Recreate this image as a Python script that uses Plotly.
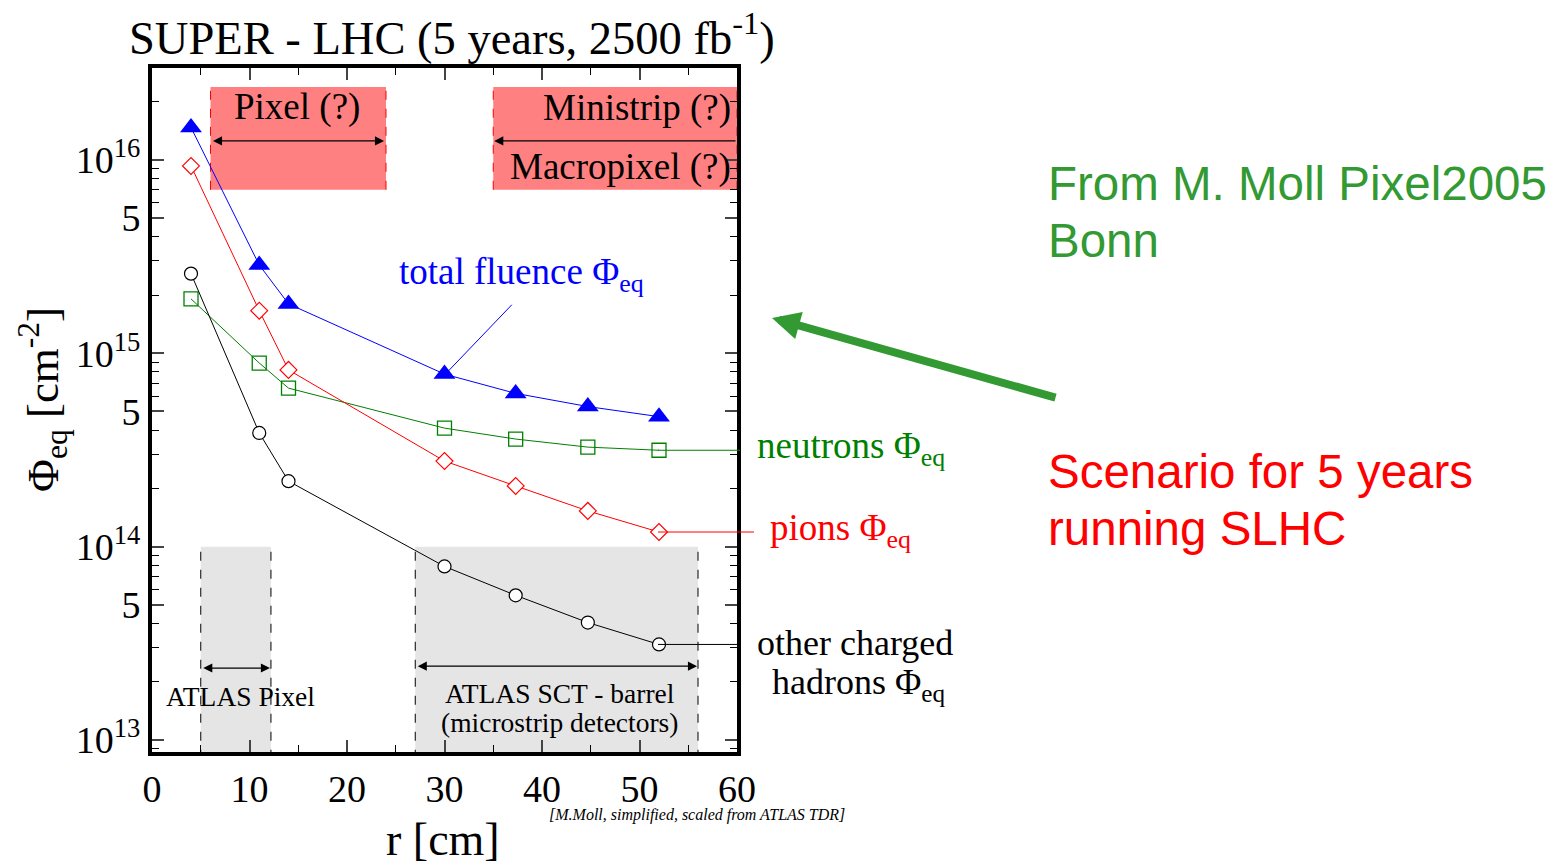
import plotly.graph_objects as go
import math

# ---- data ----
r = [4, 11, 14, 30, 37.3, 44.7, 52]
total_fluence = [1.47e16, 2.86e15, 1.80e15, 7.8e14, 6.2e14, 5.3e14, 4.7e14]
pions = [9.3e15, 1.66e15, 8.2e14, 2.77e14, 2.06e14, 1.53e14, 1.19e14]
neutrons = [1.91e15, 8.9e14, 6.6e14, 4.1e14, 3.6e14, 3.27e14, 3.15e14]
other_hadrons = [2.58e15, 3.87e14, 2.18e14, 7.9e13, 5.6e13, 4.05e13, 3.12e13]

y_tickvals = [1e13, 5e13, 1e14, 5e14, 1e15, 5e15, 1e16]
y_ticktext = ["10<sup>13</sup>", "5", "10<sup>14</sup>", "5", "10<sup>15</sup>", "5", "10<sup>16</sup>"]
x_tickvals = [0, 10, 20, 30, 40, 50, 60]

SERIF = "Liberation Serif, Times New Roman, serif"
SANS = "Liberation Sans, Arial, sans-serif"

fig = go.Figure()

fig.add_trace(go.Scatter(x=r, y=neutrons, mode="lines+markers",
                         line=dict(color="#008000", width=1),
                         marker=dict(symbol="square-open", size=14, color="#008000", line=dict(width=1.3))))
fig.add_trace(go.Scatter(x=r, y=pions, mode="lines+markers",
                         line=dict(color="#ff0000", width=1),
                         marker=dict(symbol="diamond", size=13, color="white", line=dict(width=1.2, color="#ff0000"))))
fig.add_trace(go.Scatter(x=r, y=other_hadrons, mode="lines+markers",
                         line=dict(color="black", width=1),
                         marker=dict(symbol="circle", size=13, color="white", line=dict(width=1.2, color="black"))))
fig.add_trace(go.Scatter(x=r, y=total_fluence, mode="lines+markers",
                         line=dict(color="#0000ff", width=1),
                         marker=dict(symbol="triangle-up", size=19, color="#0000ff")))

shapes = []
# pink regions
PINK = "#ff8080"
for x0, x1 in [(6, 24), (35, 60)]:
    shapes.append(dict(type="rect", xref="x", yref="y", x0=x0, x1=x1, y0=7.0e15, y1=2.38e16,
                       fillcolor=PINK, line=dict(width=0), layer="below"))
    for xv in (x0, x1):
        shapes.append(dict(type="line", xref="x", yref="y", x0=xv, x1=xv, y0=7.0e15, y1=2.38e16,
                           line=dict(color="#ff0000", width=1, dash="dash"), layer="below"))
# grey regions
GREY = "#e5e5e5"
for x0, x1 in [(5, 12.2), (27, 56)]:
    shapes.append(dict(type="rect", xref="x", yref="y", x0=x0, x1=x1, y0=8e12, y1=1e14,
                       fillcolor=GREY, line=dict(width=0), layer="below"))
    for xv in (x0, x1):
        shapes.append(dict(type="line", xref="x", yref="y", x0=xv, x1=xv, y0=8e12, y1=1e14,
                           line=dict(color="black", width=1, dash="dash"), layer="below"))

# connectors to labels outside plot
def px2paper(px):
    return (px - 152) / 585.0

shapes.append(dict(type="line", xref="paper", yref="y", x0=px2paper(658), x1=px2paper(740),
                   y0=neutrons[-1], y1=neutrons[-1], line=dict(color="#008000", width=1)))
shapes.append(dict(type="line", xref="paper", yref="y", x0=px2paper(658), x1=px2paper(754),
                   y0=pions[-1], y1=pions[-1], line=dict(color="#ff0000", width=1)))
shapes.append(dict(type="line", xref="paper", yref="y", x0=px2paper(658), x1=px2paper(740),
                   y0=other_hadrons[-1], y1=other_hadrons[-1], line=dict(color="black", width=1)))
# blue connector to label
shapes.append(dict(type="line", xref="x", yref="y", x0=36.9, x1=30.3, y0=1.78e15, y1=8.0e14,
                   line=dict(color="#0000ff", width=1)))

annotations = []

def ann(text, x, y, xref="x", yref="y", size=32, color="black", xanchor="center", yanchor="middle",
        family=SERIF, textangle=0):
    annotations.append(dict(text=text, x=x, y=y, xref=xref, yref=yref, showarrow=False,
                            font=dict(size=size, color=color, family=family),
                            xanchor=xanchor, yanchor=yanchor, textangle=textangle))

LBL = 37
# region labels
ann("Pixel (?)", 14.9, 16.274, size=LBL)
ann("Ministrip (?)", 59.6, 16.269, size=LBL, xanchor="right")
ann("Macropixel (?)", 59.6, 15.964, size=LBL, xanchor="right")
ann("ATLAS Pixel", 9.1, 13.227, size=27.5)
ann("ATLAS SCT - barrel", 41.8, 13.238, size=27.5)
ann("(microstrip detectors)", 41.8, 13.093, size=27.5)

# double arrows
def arrow(x_head, x_tail, ylog, both=True):
    annotations.append(dict(x=x_head, y=ylog, ax=x_tail, ay=ylog, xref="x", yref="y",
                            axref="x", ayref="y", text="", showarrow=True,
                            arrowhead=2, arrowsize=1.4, arrowwidth=1.3, arrowcolor="black",
                            arrowside="end+start" if both else "end", standoff=0, startstandoff=0))

arrow(23.8, 6.1, 16.098)
arrow(35.1, 60, 16.098, both=False)
arrow(12.1, 5.1, 13.372)
arrow(55.9, 27.1, 13.382)

# series labels
ann("total fluence Φ<sub>eq</sub>", 25.1, 15.406, size=LBL, color="#0000ff", xanchor="left")
ann("neutrons Φ<sub>eq</sub>", px2paper(755), 14.505, xref="paper", size=LBL, color="#008000", xanchor="left")
ann("pions Φ<sub>eq</sub>", px2paper(768), 14.081, xref="paper", size=LBL, color="#ff0000", xanchor="left")
ann("other charged", px2paper(755), 13.50, xref="paper", size=36, xanchor="left")
ann("hadrons Φ<sub>eq</sub>", px2paper(770), 13.285, xref="paper", size=36, xanchor="left")

def py2paper(py):
    return (752 - py) / 684.0

# title and axis titles
ann("SUPER - LHC (5 years, 2500 fb<sup>-1</sup>)", px2paper(452), py2paper(35), xref="paper", yref="paper", size=46.5)
ann("r [cm]", px2paper(443), py2paper(839), xref="paper", yref="paper", size=46)
ann("Φ<sub>eq</sub> [cm<sup>-2</sup>]", px2paper(42), py2paper(400), xref="paper", yref="paper", size=45, textangle=-90)
ann("<i>[M.Moll, simplified, scaled from ATLAS TDR]</i>", px2paper(697), py2paper(815), xref="paper", yref="paper", size=16)

# right side texts
GREEN2 = "#339933"
RS = 47.5
ann("From M. Moll Pixel2005", px2paper(1046), py2paper(183), xref="paper", yref="paper", size=RS,
    color=GREEN2, xanchor="left", family=SANS)
ann("Bonn", px2paper(1046), py2paper(241), xref="paper", yref="paper", size=RS,
    color=GREEN2, xanchor="left", family=SANS)
ann("Scenario for 5 years", px2paper(1046), py2paper(471), xref="paper", yref="paper", size=RS,
    color="#ff0000", xanchor="left", family=SANS)
ann("running SLHC", px2paper(1046), py2paper(528), xref="paper", yref="paper", size=RS,
    color="#ff0000", xanchor="left", family=SANS)

# green big arrow
annotations.append(dict(x=px2paper(772), y=py2paper(318), xref="paper", yref="paper",
                        ax=1057 - 772, ay=398 - 318, axref="pixel", ayref="pixel",
                        text="", showarrow=True, arrowhead=2, arrowsize=0.7, arrowwidth=8,
                        arrowcolor=GREEN2, standoff=0))

fig.update_layout(
    width=1555, height=864, autosize=False,
    margin=dict(l=152, r=1555 - 737, t=68, b=864 - 752, pad=0),
    plot_bgcolor="white", paper_bgcolor="white",
    showlegend=False,
    shapes=shapes, annotations=annotations,
    font=dict(family=SERIF, color="black"),
)
fig.update_xaxes(range=[0, 60], tickvals=x_tickvals, ticks="inside", ticklen=12, tickwidth=1.5,
                 showline=True, linewidth=4, linecolor="black", mirror="ticks",
                 showgrid=False, zeroline=False, tickfont=dict(size=38, family=SERIF),
                 ticklabelstandoff=0,
                 minor=dict(ticks="inside", ticklen=7, tickwidth=1.2, dtick=5, tick0=0, tickcolor="black", showgrid=False))
minor_y = [m * 10 ** e for e in (12, 13, 14, 15) for m in (2, 3, 4, 6, 7, 8, 9)] + [2e16]
fig.update_yaxes(type="log", range=[12.938, 16.475], tickvals=y_tickvals, ticktext=y_ticktext,
                 ticks="inside", ticklen=12, tickwidth=1.5,
                 showline=True, linewidth=4, linecolor="black", mirror="ticks",
                 showgrid=False, zeroline=False, tickfont=dict(size=38, family=SERIF),
                 ticklabelstandoff=0,
                 minor=dict(ticks="inside", ticklen=7, tickwidth=1.2, tickvals=minor_y, tickcolor="black", showgrid=False))

fig.write_html("out.html")
